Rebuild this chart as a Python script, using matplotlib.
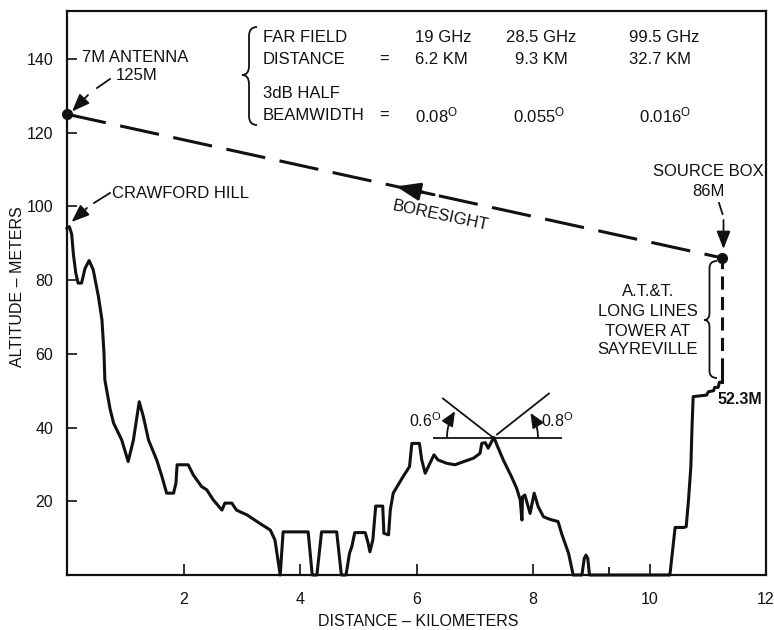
import numpy as np
import matplotlib
matplotlib.use("Agg")
import matplotlib.pyplot as plt
from matplotlib.path import Path
from matplotlib.patches import PathPatch, FancyArrowPatch
from matplotlib.transforms import Affine2D

plt.rcParams['font.family'] = ['Liberation Sans', 'DejaVu Sans']

# ---------------- data ----------------
profile_km = [0.00, 0.04, 0.08, 0.11, 0.15, 0.19, 0.25, 0.31, 0.38, 0.45, 0.54, 0.60, 0.635, 0.65,
              0.74, 0.80, 0.94, 1.05, 1.14, 1.24, 1.31, 1.40, 1.54, 1.63, 1.71, 1.83, 1.87, 1.89,
              2.08, 2.17, 2.31, 2.40, 2.51, 2.66, 2.71, 2.83, 2.91, 3.09, 3.31, 3.49, 3.57, 3.66,
              3.71, 4.14, 4.21, 4.29, 4.37, 4.63, 4.71, 4.79, 4.85, 4.89, 4.94, 5.12, 5.17, 5.20,
              5.25, 5.30, 5.42, 5.44, 5.52, 5.55, 5.60, 5.77, 5.88, 5.92, 6.05, 6.09, 6.15, 6.23,
              6.30, 6.37, 6.52, 6.66, 6.80, 6.98, 7.09, 7.12, 7.18, 7.23, 7.29, 7.33, 7.38, 7.49,
              7.63, 7.72, 7.78, 7.81, 7.82, 7.86, 7.95, 8.02, 8.09, 8.18, 8.29, 8.43, 8.49, 8.61,
              8.69, 8.84, 8.88, 8.91, 8.94, 8.97, 10.35, 10.44, 10.59, 10.63, 10.67, 10.71, 10.73,
              10.75, 10.98, 11.01, 11.10, 11.12, 11.18, 11.20, 11.25]
profile_m = [94.0, 94.5, 92.5, 87.0, 82.0, 79.2, 79.2, 83.2, 85.3, 82.8, 75.5, 69.2, 60.2, 52.9,
             45.0, 41.2, 36.6, 30.8, 36.6, 47.0, 43.0, 36.6, 31.2, 26.7, 22.2, 22.2, 24.9, 29.9,
             29.9, 27.1, 24.0, 23.1, 20.4, 17.6, 19.5, 19.5, 17.6, 16.3, 14.0, 12.2, 9.5, 0.0,
             11.7, 11.7, 0.0, 0.0, 11.7, 11.7, 0.0, 0.0, 5.9, 7.7, 11.5, 11.5, 8.6, 6.3,
             9.5, 18.7, 18.7, 11.3, 10.9, 17.6, 22.2, 26.7, 29.4, 35.7, 35.7, 31.2, 27.6, 30.3,
             32.6, 31.2, 30.3, 29.9, 30.7, 31.7, 33.0, 35.7, 35.9, 34.4, 36.2, 37.3, 35.3, 31.2,
             26.7, 23.5, 20.4, 14.9, 21.2, 21.7, 16.7, 22.2, 18.5, 15.8, 15.1, 14.5, 11.3, 5.9,
             0.0, 0.0, 4.5, 5.4, 4.5, 0.0, 0.0, 12.9, 12.9, 13.1, 20.4, 29.4, 40.2,
             48.4, 48.8, 49.7, 50.0, 50.9, 50.9, 52.3, 52.3]

antenna_km, antenna_m = 0.0, 125.0
source_km, source_m = 11.25, 86.0
tower_base_m = 52.3
specular_km, specular_m = 7.33, 37.3

x_ticks = [2, 4, 6, 8, 10, 12]
x_tick_labels = ['2', '4', '6', '8', '10', '12']
y_ticks = [20, 40, 60, 80, 100, 120, 140]
y_tick_labels = ['20', '40', '60', '80', '100', '120', '140']
far_field_tick_km = 9.3

freq_labels = ['19 GHz', '28.5 GHz', '99.5 GHz']
far_field_labels = ['6.2 KM', '9.3 KM', '32.7 KM']
beamwidth_labels = ['0.08', '0.055', '0.016']
grazing_labels = ['0.6', '0.8']

# ---------------- figure ----------------
W, H = 774, 630
fig = plt.figure(figsize=(W / 100, H / 100), dpi=100)
ax = fig.add_axes([67 / W, 55 / H, 699 / W, 564 / H])
ax.set_xlim(0, 12)
ax.set_ylim(0, 153)

PIX = Affine2D().scale(1, -1).translate(0, H)   # reference pixel coords (y down)
INK = '#111111'

for s in ax.spines.values():
    s.set_linewidth(1.6)
    s.set_color(INK)

ax.set_xticks(x_ticks)
ax.set_xticklabels(x_tick_labels)
ax.set_yticks(y_ticks)
ax.set_yticklabels(y_tick_labels)
ax.set_xticks([far_field_tick_km], minor=True)
ax.tick_params(axis='both', which='major', direction='in', length=7, width=1.2,
               labelsize=11.5, colors=INK)
ax.tick_params(axis='x', which='major', pad=12, length=8)
ax.tick_params(axis='y', which='major', pad=10)
ax.tick_params(axis='x', which='minor', direction='in', length=6, width=1.2)

# terrain profile
ax.plot(profile_km, profile_m, color=INK, lw=2.2, solid_joinstyle='round', clip_on=False, zorder=3)

# tower
ax.plot([source_km, source_km], [tower_base_m, tower_base_m + 3], color=INK, lw=2.2)
ax.plot([source_km, source_km], [tower_base_m + 3, source_m], color=INK, lw=2.2,
        dashes=(4.3, 2.4))

# boresight
ax.plot([antenna_km, source_km], [antenna_m, source_m], color=INK, lw=2.2, dashes=(13, 4.8))
ax.plot([antenna_km, source_km], [antenna_m, source_m], 'o', color=INK, ms=7, zorder=5,
        clip_on=False)
slope = (source_m - antenna_m) / (source_km - antenna_km)
bx0, bx1 = 6.3, 5.65
ax.add_patch(FancyArrowPatch((bx0, antenna_m + slope * bx0), (bx1, antenna_m + slope * bx1),
                             arrowstyle='-|>,head_length=1.2,head_width=0.45', mutation_scale=12,
                             lw=2.2, color=INK, shrinkA=0, shrinkB=0, zorder=4))
ax.text(440, 216, 'BORESIGHT', transform=PIX, fontsize=12, rotation=-11.9,
        ha='center', va='center', color=INK, rotation_mode='anchor')

# ---------------- annotations ----------------
def txt(x, y, s, **kw):
    kw.setdefault('fontsize', 12)
    kw.setdefault('ha', 'center')
    kw.setdefault('va', 'center')
    ax.text(x, y, s, transform=PIX, color=INK, clip_on=False, **kw)

def leader(p0, p1, p2, p3):
    ax.plot([p0[0], p1[0]], [p0[1], p1[1]], color=INK, lw=1.3, transform=PIX, clip_on=False)
    ax.add_patch(FancyArrowPatch(p2, p3, transform=PIX, arrowstyle='-|>,head_length=0.9,head_width=0.35',
                                 mutation_scale=12, lw=1.3, color=INK, shrinkA=0, shrinkB=0,
                                 clip_on=False, zorder=6))

txt(135.5, 57, '7M ANTENNA')
txt(136.4, 76, '125M')
leader((110, 79), (97, 88), (88, 95), (72, 111.5))

txt(180, 194, 'CRAWFORD HILL')
leader((110, 193), (94, 203), (87, 208), (71.5, 222))

txt(708, 172, 'SOURCE BOX')
txt(708, 192, '86M')
leader((719, 203), (722.5, 214), (723.5, 220), (723.5, 249))

for yy, s in zip([292, 311, 331, 349.5], ['A.T.&T.', 'LONG LINES', 'TOWER AT', 'SAYREVILLE']):
    txt(648, yy, s)
txt(740, 400, '52.3M', fontweight='bold', fontsize=11.5)


def brace(tip_x, stem_x, arm_x, y_top, y_mid, y_bot, d, lw=1.3):
    verts = [(arm_x, y_top), (stem_x, y_top), (stem_x, y_top + d),
             (stem_x, y_mid - d), (stem_x, y_mid), (tip_x, y_mid),
             (stem_x, y_mid), (stem_x, y_mid + d),
             (stem_x, y_bot - d), (stem_x, y_bot), (arm_x, y_bot)]
    codes = [Path.MOVETO, Path.CURVE3, Path.CURVE3,
             Path.LINETO, Path.CURVE3, Path.CURVE3,
             Path.CURVE3, Path.CURVE3,
             Path.LINETO, Path.CURVE3, Path.CURVE3]
    ax.add_patch(PathPatch(Path(verts, codes), transform=PIX, fill=False, lw=lw,
                           color=INK, clip_on=False))

brace(704, 709.5, 717, 261, 320, 378, 7)
brace(242, 249, 257, 27, 75, 125, 9)

# table
deg = r'$\mathregular{^O}$'
txt(263, 37, 'FAR FIELD', ha='left')
txt(263, 59, 'DISTANCE', ha='left')
txt(263, 93, '3dB HALF', ha='left')
txt(263, 115, 'BEAMWIDTH', ha='left')
txt(384, 59, '=')
txt(384, 115, '=')
col_x = [(415, 'left'), (541, 'center'), (629, 'left')]
for (cx, ha), f, d in zip(col_x, freq_labels, far_field_labels):
    txt(cx, 37, f, ha=ha)
    txt(cx, 59, d, ha=ha)
bw_x = [(415, 'left'), (539, 'center'), (639, 'left')]
for (cx, ha), b in zip(bw_x, beamwidth_labels):
    txt(cx, 115, b + deg, ha=ha)

# grazing angle construction at the specular point
fig.canvas.draw()
vx, vy = ax.transData.transform((specular_km, specular_m))
vy_ref = H - vy   # to reference pixel coords (y down)
ax.plot([vx - 60, vx + 67], [vy_ref, vy_ref], color=INK, lw=1.3, transform=PIX, clip_on=False)
ax.plot([vx - 1, vx - 51], [vy_ref, vy_ref - 39], color=INK, lw=1.3, transform=PIX, clip_on=False)
ax.plot([vx + 3, vx + 55], [vy_ref - 3, vy_ref - 44], color=INK, lw=1.3, transform=PIX, clip_on=False)

def arc(r, a0, a1):
    t = np.radians(np.linspace(a0, a1, 30))
    xs = vx + r * np.cos(t)
    ys = vy_ref - r * np.sin(t)
    ax.plot(xs[:-4], ys[:-4], color=INK, lw=1.3, transform=PIX, clip_on=False)
    ax.add_patch(FancyArrowPatch((xs[-6], ys[-6]), (xs[-1], ys[-1]), transform=PIX,
                                 arrowstyle='-|>,head_length=0.8,head_width=0.35', mutation_scale=11,
                                 lw=1.3, color=INK, shrinkA=0, shrinkB=0, clip_on=False))

arc(47, 180, 146)
arc(44, 0, 34)
txt(vx - 69, vy_ref - 17, grazing_labels[0] + deg, fontsize=11.5)
txt(vx + 63, vy_ref - 17, grazing_labels[1] + deg, fontsize=11.5)

# axis titles
fig.text(418 / W, 1 - 621 / H, 'DISTANCE – KILOMETERS', ha='center', va='center',
         fontsize=11.5, color=INK)
fig.text(18 / W, 1 - 287 / H, 'ALTITUDE – METERS', ha='center', va='center',
         rotation=90, fontsize=11.5, color=INK)

fig.savefig('out.png', dpi=100)
